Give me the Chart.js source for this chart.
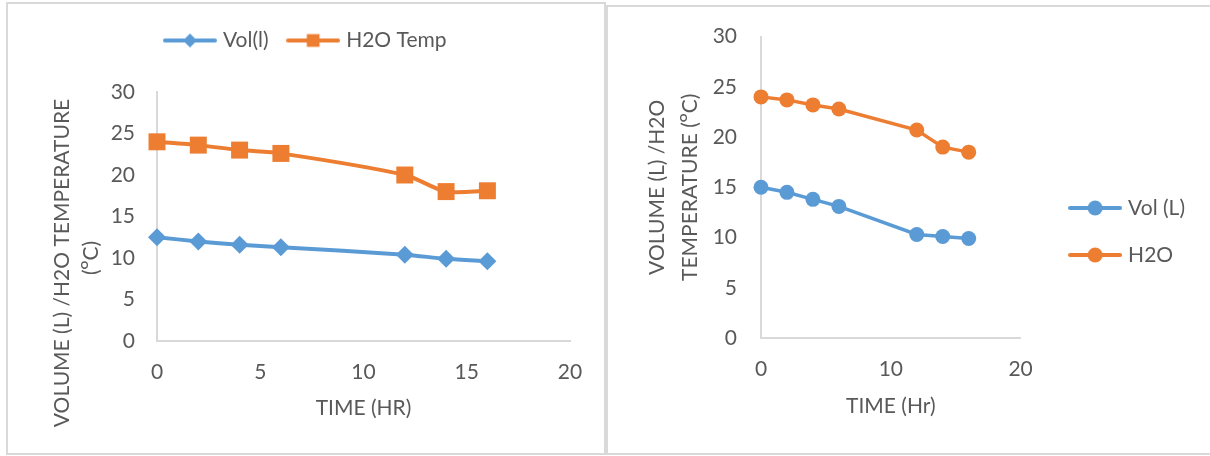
<!DOCTYPE html>
<html>
<head>
<meta charset="utf-8">
<script src="https://cdn.jsdelivr.net/npm/chart.js@4.4.0/dist/chart.umd.min.js"></script>
<style>
  body { margin: 0; background: #fff; width: 1210px; height: 456px; overflow: hidden; position: relative; }
  .frame { position: absolute; border: 2px solid #d9d9d9; box-sizing: border-box; }
  canvas { position: absolute; top: 0; }
</style>
</head>
<body>
<div class="frame" style="left:6px;top:2px;width:600px;height:453px"></div>
<div class="frame" style="left:606px;top:5px;width:612px;height:450px"></div>
<canvas id="chartLeft" width="605" height="456" style="left:0"></canvas>
<canvas id="chartRight" width="603" height="456" style="left:607px"></canvas>
<script>
// left chart
const hoursLeft = [0, 2, 4, 6, 12, 14, 16];
const volLeft = [12.5, 12.0, 11.6, 11.3, 10.4, 9.9, 9.6];
const tempLeft = [24.0, 23.6, 23.0, 22.6, 20.0, 18.0, 18.1];
const seriesLeft = ['Vol(l)', 'H2O Temp'];
const xTicksLeft = [0, 5, 10, 15, 20];
const xTitleLeft = 'TIME (HR)';
const yTitleLeft = ['VOLUME (L) /H2O TEMPERATURE', '(ᴼC)'];

// right chart
const hoursRight = [0, 2, 4, 6, 12, 14, 16];
const volRight = [15.0, 14.5, 13.8, 13.1, 10.3, 10.1, 9.9];
const tempRight = [24.0, 23.7, 23.2, 22.8, 20.7, 19.0, 18.5];
const seriesRight = ['Vol (L)', 'H2O'];
const xTicksRight = [0, 10, 20];
const xTitleRight = 'TIME (Hr)';
const yTitleRight = ['VOLUME (L) /H2O', 'TEMPERATURE (ᴼC)'];

const yTicks = [0, 5, 10, 15, 20, 25, 30];

const textColor = '#595959';
const axisColor = '#d9d9d9';
const blue = '#5b9bd5';
const orange = '#ed7d31';
const family = 'Lato, "Open Sans", sans-serif';
const font = { family: family, size: 21 };

// line + marker picture used as legend symbol
function legendIcon(color, style, radius) {
  const c = document.createElement('canvas');
  c.width = 54;
  c.height = 24;
  const g = c.getContext('2d');
  g.strokeStyle = color;
  g.fillStyle = color;
  g.lineWidth = 4;
  g.lineCap = 'round';
  g.beginPath();
  g.moveTo(2, 12);
  g.lineTo(52, 12);
  g.stroke();
  Chart.helpers.drawPoint(g, { pointStyle: style, radius: radius, rotation: 0, borderWidth: 0 }, 27, 12);
  return c;
}

function series(label, xs, ys, color, style, radius, tension, width) {
  return {
    label: label,
    data: xs.map((x, i) => ({ x: x, y: ys[i] })),
    borderColor: color,
    backgroundColor: color,
    borderWidth: width,
    pointStyle: style,
    pointRadius: radius,
    pointHoverRadius: radius,
    pointBorderWidth: 0,
    tension: tension,
    clip: false
  };
}

function fixedTicks(list) {
  return function(scale) {
    scale.ticks = list.map(v => ({ value: v }));
  };
}

function legendLabels(icons) {
  return function(chart) {
    const items = Chart.defaults.plugins.legend.labels.generateLabels(chart);
    items.forEach((item, i) => { item.pointStyle = icons[i]; });
    return items;
  };
}

// empty axis used only to leave room between blocks
function spacer(position, size) {
  return {
    type: 'linear', position: position, display: true, min: 0, max: 1,
    grid: { display: false, drawTicks: false },
    border: { display: false },
    ticks: { display: false },
    afterFit: function(s) {
      if (position === 'top') s.height = size; else s.width = size;
    }
  };
}

// the left y title sits lower than the plot centre, so it is drawn by hand
const leftYTitle = {
  id: 'leftYTitle',
  afterDraw(chart) {
    const ctx = chart.ctx;
    const spots = [[62, 263], [91, 258]];
    ctx.save();
    ctx.fillStyle = textColor;
    ctx.font = '21px ' + family;
    ctx.textAlign = 'center';
    ctx.textBaseline = 'middle';
    yTitleLeft.forEach((line, i) => {
      ctx.save();
      ctx.translate(spots[i][0], spots[i][1]);
      ctx.rotate(-Math.PI / 2);
      ctx.fillText(line, 0, 0);
      ctx.restore();
    });
    ctx.restore();
  }
};

new Chart(document.getElementById('chartLeft'), {
  type: 'line',
  data: {
    datasets: [
      series(seriesLeft[0], hoursLeft, volLeft, blue, 'rectRot', 9, 0.3, 4),
      series(seriesLeft[1], hoursLeft, tempLeft, orange, 'rect', 12, 0.3, 4)
    ]
  },
  options: {
    responsive: false,
    animation: false,
    events: [],
    layout: { padding: { left: 44, right: 35, top: 8, bottom: 25 } },
    plugins: {
      legend: {
        position: 'top',
        labels: {
          usePointStyle: true,
          pointStyleWidth: 45,
          padding: 22,
          color: textColor,
          font: font,
          generateLabels: legendLabels([legendIcon(blue, 'rectRot', 7), legendIcon(orange, 'rect', 9)])
        }
      },
      tooltip: { enabled: false }
    },
    scales: {
      x: {
        type: 'linear', min: 0, max: 20,
        afterBuildTicks: fixedTicks(xTicksLeft),
        grid: { display: false, drawTicks: false },
        border: { color: axisColor, width: 2 },
        ticks: { padding: 19, color: textColor, font: font },
        title: { display: true, text: xTitleLeft, color: textColor, font: font, padding: { top: 0, bottom: 10 } },
        afterFit: function(s) { s.height = 90; }
      },
      y: {
        type: 'linear', min: 0, max: 30,
        afterBuildTicks: fixedTicks(yTicks),
        grid: { display: false, drawTicks: false },
        border: { color: axisColor, width: 2 },
        ticks: { padding: 22, color: textColor, font: font },
        afterFit: function(s) { s.width = 113; }
      },
      gap: spacer('top', 31)
    }
  },
  plugins: [leftYTitle]
});

new Chart(document.getElementById('chartRight'), {
  type: 'line',
  data: {
    datasets: [
      series(seriesRight[0], hoursRight, volRight, blue, 'circle', 7.5, 0, 3.5),
      series(seriesRight[1], hoursRight, tempRight, orange, 'circle', 7.5, 0, 3.5)
    ]
  },
  options: {
    responsive: false,
    animation: false,
    events: [],
    layout: { padding: { left: 10, right: 15, top: 35, bottom: 28 } },
    plugins: {
      legend: {
        position: 'right',
        maxWidth: 220,
        labels: {
          usePointStyle: true,
          pointStyleWidth: 45,
          padding: 26,
          color: textColor,
          font: font,
          generateLabels: legendLabels([legendIcon(blue, 'circle', 7.5), legendIcon(orange, 'circle', 7.5)])
        }
      },
      tooltip: { enabled: false }
    },
    scales: {
      x: {
        type: 'linear', min: 0, max: 20,
        afterBuildTicks: fixedTicks(xTicksRight),
        grid: { display: false, drawTicks: false },
        border: { color: axisColor, width: 2 },
        ticks: { padding: 19, color: textColor, font: font },
        title: { display: true, text: xTitleRight, color: textColor, font: font, padding: { top: 0, bottom: 9 } },
        afterFit: function(s) { s.height = 90; }
      },
      y: {
        type: 'linear', min: 0, max: 30,
        afterBuildTicks: fixedTicks(yTicks),
        grid: { display: false, drawTicks: false },
        border: { color: axisColor, width: 2 },
        ticks: { padding: 24, color: textColor, font: font },
        title: { display: true, text: yTitleRight, color: textColor, font: { family: family, size: 21, lineHeight: 1.55 }, padding: { top: 24, bottom: 0 } },
        afterFit: function(s) { s.width = 144; }
      },
      gap: spacer('right', 26)
    }
  }
});
</script>
</body>
</html>
